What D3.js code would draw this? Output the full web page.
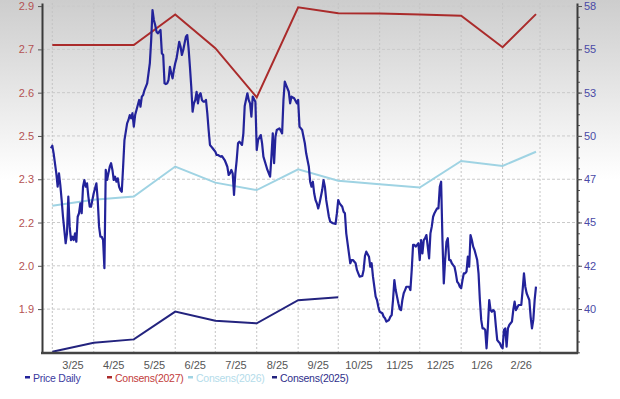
<!doctype html>
<html>
<head>
<meta charset="utf-8">
<script src="https://cdn.jsdelivr.net/npm/d3@7"></script>
<style>
    html, body { margin: 0; padding: 0; background: #fff; }
    #viz { position: absolute; top: 0; left: 0; width: 620px; height: 399px; }
    text { font-family: "Liberation Sans", Arial, sans-serif; }
</style>
</head>
<body>
<div id="viz"></div>
<script>
var priceDates = [
    "2025-02-28","2025-03-01","2025-03-02","2025-03-04","2025-03-05","2025-03-06","2025-03-07","2025-03-08","2025-03-09","2025-03-11",
    "2025-03-12","2025-03-13","2025-03-14","2025-03-15","2025-03-16","2025-03-17","2025-03-18","2025-03-19","2025-03-20","2025-03-21",
    "2025-03-22","2025-03-23","2025-03-24","2025-03-25","2025-03-26","2025-03-27","2025-03-28","2025-03-29","2025-03-30","2025-03-31",
    "2025-04-01","2025-04-03","2025-04-04","2025-04-05","2025-04-06","2025-04-07","2025-04-08","2025-04-09","2025-04-10","2025-04-11",
    "2025-04-12","2025-04-13","2025-04-14","2025-04-15","2025-04-16","2025-04-17","2025-04-18","2025-04-19","2025-04-20","2025-04-21",
    "2025-04-22","2025-04-23","2025-04-24","2025-04-26","2025-04-27","2025-04-28","2025-04-29","2025-04-30","2025-05-01","2025-05-02",
    "2025-05-03","2025-05-04","2025-05-05","2025-05-06","2025-05-07","2025-05-08","2025-05-09","2025-05-11","2025-05-12","2025-05-13",
    "2025-05-14","2025-05-15","2025-05-16","2025-05-17","2025-05-18","2025-05-19","2025-05-21","2025-05-22","2025-05-23","2025-05-24",
    "2025-05-25","2025-05-26","2025-05-27","2025-05-28","2025-05-29","2025-05-30","2025-05-31","2025-06-01","2025-06-02","2025-06-03",
    "2025-06-04","2025-06-05","2025-06-06","2025-06-07","2025-06-08","2025-06-09","2025-06-10","2025-06-11","2025-06-12","2025-06-13",
    "2025-06-14","2025-06-15","2025-06-16","2025-06-17","2025-06-18","2025-06-19","2025-06-20","2025-06-21","2025-06-22","2025-06-23",
    "2025-06-24","2025-06-25","2025-06-26","2025-06-27","2025-06-28","2025-06-29","2025-06-30","2025-07-01","2025-07-02","2025-07-03",
    "2025-07-05","2025-07-06","2025-07-08","2025-07-09","2025-07-10","2025-07-11","2025-07-12","2025-07-13","2025-07-14","2025-07-15",
    "2025-07-16","2025-07-17","2025-07-18","2025-07-19","2025-07-20","2025-07-21","2025-07-22","2025-07-23","2025-07-25","2025-07-26",
    "2025-07-27","2025-07-28","2025-07-29","2025-07-31","2025-08-01","2025-08-02","2025-08-04","2025-08-05","2025-08-06","2025-08-09",
    "2025-08-11","2025-08-12","2025-08-13","2025-08-14","2025-08-15","2025-08-16","2025-08-18","2025-08-20","2025-08-21","2025-08-22",
    "2025-08-23","2025-08-25","2025-08-26","2025-08-27","2025-08-29","2025-08-31","2025-09-01","2025-09-02","2025-09-04","2025-09-05",
    "2025-09-06","2025-09-07","2025-09-09","2025-09-10","2025-09-11","2025-09-12","2025-09-13","2025-09-14","2025-09-15","2025-09-16",
    "2025-09-17","2025-09-19","2025-09-20","2025-09-21","2025-09-22","2025-09-24","2025-09-25","2025-09-27","2025-09-29","2025-09-30",
    "2025-10-01","2025-10-02","2025-10-04","2025-10-05","2025-10-06","2025-10-07","2025-10-09","2025-10-10","2025-10-11","2025-10-12",
    "2025-10-14","2025-10-15","2025-10-16","2025-10-17","2025-10-19","2025-10-20","2025-10-21","2025-10-22","2025-10-24","2025-10-25",
    "2025-10-26","2025-10-27","2025-10-29","2025-10-30","2025-10-31","2025-11-01","2025-11-03","2025-11-04","2025-11-05","2025-11-06",
    "2025-11-08","2025-11-09","2025-11-10","2025-11-11","2025-11-12","2025-11-13","2025-11-14","2025-11-15","2025-11-16","2025-11-17",
    "2025-11-18","2025-11-19","2025-11-20","2025-11-21","2025-11-23","2025-11-24","2025-11-25","2025-11-26","2025-11-27","2025-11-28",
    "2025-11-30","2025-12-01","2025-12-02","2025-12-03","2025-12-04","2025-12-05","2025-12-06","2025-12-07","2025-12-08","2025-12-09",
    "2025-12-10","2025-12-11","2025-12-12","2025-12-13","2025-12-14","2025-12-15","2025-12-16","2025-12-17","2025-12-18","2025-12-19",
    "2025-12-20","2025-12-21","2025-12-22","2025-12-23","2025-12-24","2025-12-25","2025-12-26","2025-12-27","2025-12-28","2025-12-29",
    "2025-12-30","2025-12-31","2026-01-01","2026-01-02","2026-01-03","2026-01-04","2026-01-05","2026-01-06","2026-01-07","2026-01-08",
    "2026-01-09","2026-01-10","2026-01-11","2026-01-12","2026-01-13","2026-01-14","2026-01-15","2026-01-16","2026-01-17","2026-01-18",
    "2026-01-19","2026-01-20","2026-01-21","2026-01-22","2026-01-23","2026-01-24","2026-01-25","2026-01-26","2026-01-27","2026-01-28",
    "2026-01-29","2026-01-30","2026-01-31","2026-02-01","2026-02-02","2026-02-03","2026-02-04","2026-02-05","2026-02-06","2026-02-07",
    "2026-02-08","2026-02-09","2026-02-10","2026-02-11","2026-02-13","2026-02-15","2026-02-16","2026-02-17","2026-02-18","2026-02-19",
    "2026-02-20","2026-02-21","2026-02-22","2026-02-23","2026-02-24","2026-02-25","2026-02-26"
];
var priceValues = [
    49.28,49.44,48.98,47.79,46.99,47.79,47.09,46.20,45.20,43.62,
    44.21,46.40,44.61,43.81,44.01,43.81,44.21,43.71,45.20,45.41,
    46.00,45.41,46.99,47.39,46.99,47.19,46.40,45.80,45.80,46.20,
    46.60,47.19,46.20,44.61,44.01,44.01,43.81,42.13,47.99,47.39,
    47.79,48.18,48.39,47.99,47.39,47.59,47.29,47.49,46.99,46.79,
    46.69,48.18,49.77,50.77,50.97,51.26,51.07,51.37,50.57,51.26,
    51.56,51.86,52.16,51.76,52.36,52.46,52.75,53.15,53.75,54.35,
    55.73,57.52,56.93,56.63,56.23,56.13,56.33,54.94,54.84,53.15,
    53.11,53.15,53.35,54.14,53.75,53.45,53.95,54.35,54.64,55.14,
    55.63,55.33,54.84,55.14,55.54,55.93,56.03,55.24,54.14,52.95,
    51.46,51.96,52.16,52.65,51.96,52.46,52.56,52.16,52.06,52.06,
    52.16,51.37,50.37,49.48,49.38,49.28,49.18,49.08,48.88,48.88,
    48.78,48.82,48.58,48.39,48.18,47.69,47.79,47.99,47.79,46.50,
    47.79,48.58,49.58,49.67,49.58,49.48,50.17,51.80,52.56,52.16,
    51.96,51.16,52.36,52.06,49.18,49.77,50.07,49.58,48.78,47.99,
    47.59,48.78,50.17,48.39,49.97,50.37,50.47,50.17,52.16,53.25,
    53.05,52.65,51.96,52.36,52.26,51.96,52.16,50.57,50.37,49.97,
    49.58,48.98,48.18,47.29,46.99,47.29,46.60,46.20,46.00,45.70,
    46.00,46.79,47.39,46.99,46.20,45.20,44.91,44.81,44.77,45.41,
    46.20,46.00,45.80,45.50,45.41,44.21,43.02,42.43,42.62,42.62,
    42.43,42.03,41.83,41.63,41.67,42.03,42.86,43.12,42.82,42.22,
    42.43,41.63,40.44,40.24,39.84,39.54,39.45,39.24,39.15,38.95,
    39.05,39.24,39.34,40.24,41.43,40.83,40.44,40.04,39.70,39.64,
    40.24,40.64,40.83,41.03,41.03,40.83,42.03,43.52,43.52,43.42,
    43.62,42.62,43.81,43.02,43.81,43.92,44.11,43.42,42.72,44.21,
    44.61,45.20,45.41,45.56,45.70,45.70,46.99,47.29,43.81,41.23,
    42.62,43.70,43.92,42.62,42.62,42.43,42.32,42.22,41.83,41.33,
    41.23,41.03,40.94,41.43,41.83,41.83,41.93,42.82,42.22,44.11,
    43.81,43.42,43.22,42.92,42.62,41.83,40.24,39.05,38.55,38.55,
    38.45,37.36,38.65,40.24,39.64,39.54,39.64,39.54,38.65,37.85,
    37.75,37.66,37.46,37.36,38.45,38.55,37.46,38.55,38.75,38.85,
    38.95,39.64,40.14,39.64,39.94,39.94,40.83,41.83,41.03,40.64,
    40.44,40.24,39.24,38.55,39.05,40.24,41.03
];

var consensDates = ["2025-03-01","2025-04-01","2025-05-01","2025-06-01","2025-07-01","2025-08-01","2025-09-01",
                    "2025-10-01","2025-11-01","2025-12-01","2026-01-01","2026-02-01","2026-02-26"];
var consens2027 = [2.754,2.754,2.754,2.853,2.744,2.585,2.876,2.857,2.856,2.853,2.849,2.747,2.854];
var consens2026 = [2.234,2.254,2.264,2.361,2.309,2.285,2.352,2.315,2.304,2.293,2.379,2.363,2.409];
var consens2025 = [1.762,1.791,1.802,1.892,1.862,1.854,1.929,1.938];

var leftTickValues = [1.90, 2.04, 2.18, 2.32, 2.46, 2.60, 2.74, 2.88];
var leftTickLabels = ["1.9", "2.0", "2.2", "2.3", "2.5", "2.6", "2.7", "2.9"];
var rightTickValues = [39.70, 42.28, 44.86, 47.44, 50.02, 52.60, 55.18, 57.76];
var rightTickLabels = ["40", "42", "45", "47", "50", "53", "55", "58"];

var legendNames = ["Price Daily", "Consens(2027)", "Consens(2026)", "Consens(2025)"];
var legendColors = ["#23239a", "#aa2b2b", "#9fd3e3", "#23237e"];
var legendTextColors = ["#3b3ba0", "#c23b3b", "#b4dcea", "#2e2e8a"];

var renderChart = function () {
    var W = 620, H = 399;
    var left = 42, right = 577, top = 3, bottom = 353;
    var parse = d3.timeParse("%Y-%m-%d");

    var svg = d3.select("#viz").append("svg")
        .attr("width", W)
        .attr("height", H);

    var grad = svg.append("defs").append("linearGradient")
        .attr("id", "bg").attr("x1", 0).attr("y1", 0).attr("x2", 0).attr("y2", 1);
    grad.append("stop").attr("offset", "0%").attr("stop-color", "#cdcdcd");
    grad.append("stop").attr("offset", "45%").attr("stop-color", "#ffffff");
    grad.append("stop").attr("offset", "100%").attr("stop-color", "#ffffff");
    svg.append("rect").attr("width", W).attr("height", H).attr("fill", "url(#bg)");

    var x = d3.scaleTime()
        .domain([parse("2025-03-01"), parse("2026-03-01")])
        .range([52.3, 540]);
    var yLeft = d3.scaleLinear().domain([1.758, 2.890]).range([bottom, top]);
    var yRight = d3.scaleLinear().domain([37.08, 57.94]).range([bottom, top]);

    // grid
    var months = d3.timeMonth.range(parse("2025-03-01"), parse("2026-03-02"));
    svg.append("g").selectAll("line")
        .data(months)
        .enter().append("line")
            .attr("x1", function (d) { return x(d); })
            .attr("x2", function (d) { return x(d); })
            .attr("y1", top)
            .attr("y2", bottom)
            .attr("stroke", "#c4c4c4")
            .attr("stroke-width", 1)
            .attr("stroke-dasharray", "2,2");
    svg.append("g").selectAll("line")
        .data(leftTickValues)
        .enter().append("line")
            .attr("x1", left)
            .attr("x2", right)
            .attr("y1", function (d) { return yLeft(d); })
            .attr("y2", function (d) { return yLeft(d); })
            .attr("stroke", "#cacaca")
            .attr("stroke-width", 1)
            .attr("stroke-dasharray", "3,2");

    // lines
    var lineL = function (dates, vals) {
        return d3.line()
            .x(function (d, i) { return x(parse(dates[i])); })
            .y(function (d) { return yLeft(d); })(vals);
    };
    svg.append("path").attr("d", lineL(consensDates, consens2026))
        .attr("fill", "none").attr("stroke", legendColors[2]).attr("stroke-width", 2);
    svg.append("path").attr("d", lineL(consensDates, consens2025))
        .attr("fill", "none").attr("stroke", legendColors[3]).attr("stroke-width", 2);
    svg.append("path").attr("d", lineL(consensDates, consens2027))
        .attr("fill", "none").attr("stroke", legendColors[1]).attr("stroke-width", 2);

    var priceLine = d3.line()
        .x(function (d, i) { return x(parse(priceDates[i])); })
        .y(function (d) { return yRight(d); });
    svg.append("path").attr("d", priceLine(priceValues))
        .attr("fill", "none").attr("stroke", legendColors[0])
        .attr("stroke-width", 2.2).attr("stroke-linejoin", "round");

    // left axis
    var gl = svg.append("g").attr("transform", "translate(" + left + ",0)")
        .call(d3.axisLeft(yLeft).tickValues(leftTickValues)
            .tickFormat(function (d, i) { return leftTickLabels[i]; })
            .tickSize(4).tickSizeOuter(0).tickPadding(4));
    gl.select(".domain").attr("stroke", "#3a3a3a").attr("stroke-width", 2);
    gl.selectAll(".tick line").attr("stroke", "#555");
    gl.selectAll("text").attr("fill", "#b45252").attr("font-size", 11)
        .attr("font-family", "Liberation Sans, Arial, sans-serif");

    // right axis with minor ticks
    var minor = d3.range(37.12, 57.94, 0.645);
    var gm = svg.append("g").attr("transform", "translate(" + right + ",0)")
        .call(d3.axisRight(yRight).tickValues(minor).tickFormat("").tickSize(3).tickSizeOuter(0));
    gm.select(".domain").remove();
    gm.selectAll(".tick line").attr("stroke", "#555");
    var gr = svg.append("g").attr("transform", "translate(" + right + ",0)")
        .call(d3.axisRight(yRight).tickValues(rightTickValues)
            .tickFormat(function (d, i) { return rightTickLabels[i]; })
            .tickSize(5).tickSizeOuter(0).tickPadding(2));
    gr.select(".domain").attr("stroke", "#3a3a3a").attr("stroke-width", 2);
    gr.selectAll(".tick line").attr("stroke", "#555");
    gr.selectAll("text").attr("fill", "#4a4aa6").attr("font-size", 11)
        .attr("font-family", "Liberation Sans, Arial, sans-serif");

    // bottom axis
    svg.append("line")
        .attr("x1", left - 1).attr("x2", right + 1)
        .attr("y1", bottom).attr("y2", bottom)
        .attr("stroke", "#444").attr("stroke-width", 2.5);
    var fmt = d3.timeFormat("%-m/%y");
    svg.append("g").selectAll("text")
        .data(months.slice(0, 12))
        .enter().append("text")
            .attr("x", function (d) { return (x(d) + x(d3.timeMonth.offset(d, 1))) / 2; })
            .attr("y", bottom + 16)
            .attr("text-anchor", "middle")
            .attr("font-size", 11)
            .attr("fill", "#555")
            .text(function (d) { return fmt(d); });

    // legend
    var legendX = [25, 107, 188, 272];
    var lg = svg.append("g").selectAll("g")
        .data(legendNames)
        .enter().append("g")
            .attr("transform", function (d, i) { return "translate(" + legendX[i] + ",378)"; });
    lg.append("rect")
        .attr("x", 0).attr("y", -2).attr("width", 5).attr("height", 2.5)
        .attr("fill", function (d, i) { return legendColors[i]; });
    lg.append("text")
        .attr("x", 8).attr("y", 4)
        .attr("font-size", 10.5)
        .attr("letter-spacing", -0.25)
        .attr("fill", function (d, i) { return legendTextColors[i]; })
        .text(function (d) { return d; });
};

renderChart();
</script>
</body>
</html>
